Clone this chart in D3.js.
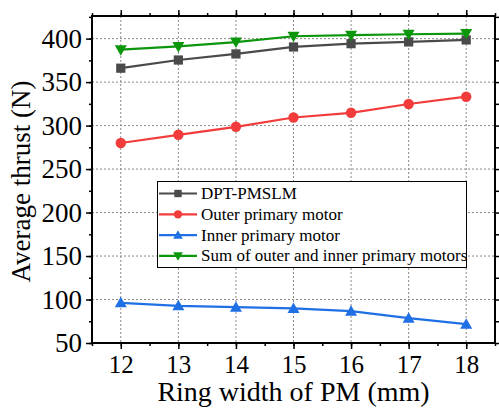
<!DOCTYPE html>
<html>
<head>
<meta charset="utf-8">
<script src="https://cdn.jsdelivr.net/npm/d3@7/dist/d3.min.js"></script>
<style>
body { margin: 0; background: #fff; }
</style>
</head>
<body>
<script>
var widths = [12, 13, 14, 15, 16, 17, 18];
var dptValues = [366, 375.4, 382.4, 390.4, 394.2, 396.2, 398.5];
var outerValues = [280, 289.4, 298.6, 309.3, 314.7, 324.8, 333.2];
var innerValues = [96.2, 92.7, 91.2, 89.7, 86.6, 78.5, 71.6];
var sumValues = [387.3, 391, 396, 402.7, 404, 405, 405.8];
var seriesNames = ["DPT-PMSLM", "Outer primary motor", "Inner primary motor", "Sum of outer and inner primary motors"];
var yTicks = [50, 100, 150, 200, 250, 300, 350, 400];

var w = 499, h = 409;
var m = {left: 92, top: 16, right: 495, bottom: 343};
var serif = "'Liberation Serif', 'Times New Roman', serif";

var series = [
	{name: seriesNames[0], values: dptValues, color: "#4a4a4a", marker: d3.symbolSquare},
	{name: seriesNames[1], values: outerValues, color: "#f23c3c", marker: d3.symbolCircle},
	{name: seriesNames[2], values: innerValues, color: "#1f6fe5", marker: "up"},
	{name: seriesNames[3], values: sumValues, color: "#0b960b", marker: "down"}
];

var svg = d3.select("body").append("svg").attr("width", w).attr("height", h)
	.attr("font-family", serif);

var x = d3.scaleLinear().domain([11.5, 18.5]).range([m.left, m.right]);
var y = d3.scaleLinear().domain([50, 426]).range([m.bottom, m.top]);

// grid
var grid = svg.append("g").attr("stroke", "#888").attr("stroke-width", 1).attr("stroke-dasharray", "2,2");
grid.selectAll(".gx").data(widths).enter().append("line")
	.attr("x1", function(d) { return x(d); }).attr("x2", function(d) { return x(d); })
	.attr("y1", m.top).attr("y2", m.bottom);
grid.selectAll(".gy").data(yTicks.slice(1)).enter().append("line")
	.attr("y1", function(d) { return y(d); }).attr("y2", function(d) { return y(d); })
	.attr("x1", m.left).attr("x2", m.right);

// axes
var xMinor = d3.range(11.5, 18.6, 0.5);
var yMinor = d3.range(50, 426, 25);

function axisStyle(g) {
	g.attr("font-family", serif);
	g.select(".domain").remove();
	g.selectAll("line").attr("stroke", "#000").attr("stroke-width", 1.5);
	g.selectAll("text").attr("font-family", serif).attr("fill", "#000");
}

svg.append("g").attr("transform", "translate(0," + m.bottom + ")")
	.call(d3.axisBottom(x).tickValues(xMinor).tickSize(3).tickFormat(""))
	.call(axisStyle);
svg.append("g").attr("transform", "translate(0," + m.bottom + ")")
	.call(d3.axisBottom(x).tickValues(widths).tickSize(6).tickPadding(6).tickFormat(d3.format("d")))
	.call(axisStyle)
	.selectAll("text").attr("font-size", "25px");
svg.append("g").attr("transform", "translate(0," + m.top + ")")
	.call(d3.axisTop(x).tickValues(xMinor).tickSize(3).tickFormat(""))
	.call(axisStyle);
svg.append("g").attr("transform", "translate(0," + m.top + ")")
	.call(d3.axisTop(x).tickValues(widths).tickSize(6).tickFormat(""))
	.call(axisStyle);
svg.append("g").attr("transform", "translate(" + m.left + ",0)")
	.call(d3.axisLeft(y).tickValues(yMinor).tickSize(3).tickFormat(""))
	.call(axisStyle);
svg.append("g").attr("transform", "translate(" + m.left + ",0)")
	.call(d3.axisLeft(y).tickValues(yTicks).tickSize(6).tickPadding(4).tickFormat(d3.format("d")))
	.call(axisStyle)
	.selectAll("text").attr("font-size", "27px");
svg.append("g").attr("transform", "translate(" + m.right + ",0)")
	.call(d3.axisRight(y).tickValues(yMinor).tickSize(5).tickFormat(""))
	.call(axisStyle);

svg.append("rect").attr("x", m.left).attr("y", m.top)
	.attr("width", m.right - m.left).attr("height", m.bottom - m.top)
	.attr("fill", "none").attr("stroke", "#000").attr("stroke-width", 2);

// markers
function drawMarker(g, type, color, s) {
	if (type === "up") {
		g.append("path").attr("d", "M0," + (-s * 0.6) + "L" + (s * 0.6) + "," + (s * 0.45) + "L" + (-s * 0.6) + "," + (s * 0.45) + "Z").attr("fill", color);
	} else if (type === "down") {
		g.append("path").attr("d", "M0," + (s * 0.6) + "L" + (s * 0.6) + "," + (-s * 0.45) + "L" + (-s * 0.6) + "," + (-s * 0.45) + "Z").attr("fill", color);
	} else {
		g.append("path").attr("d", d3.symbol().type(type).size(s * s * 0.85)()).attr("fill", color);
	}
}

var line = d3.line().x(function(d, i) { return x(widths[i]); }).y(function(d) { return y(d); });

series.forEach(function(s) {
	svg.append("path").datum(s.values).attr("d", line)
		.attr("fill", "none").attr("stroke", s.color).attr("stroke-width", 2.2);
	s.values.forEach(function(v, i) {
		var g = svg.append("g").attr("transform", "translate(" + x(widths[i]) + "," + y(v) + ")");
		drawMarker(g, s.marker, s.color, 10);
	});
});

// legend
var lg = svg.append("g");
lg.append("rect").attr("x", 157.5).attr("y", 181.5).attr("width", 309).attr("height", 86)
	.attr("fill", "#fff").attr("stroke", "#000").attr("stroke-width", 1);
series.forEach(function(s, i) {
	var yy = 193.5 + i * 20.8;
	lg.append("line").attr("x1", 159).attr("x2", 197).attr("y1", yy).attr("y2", yy)
		.attr("stroke", s.color).attr("stroke-width", 2.2);
	var g = lg.append("g").attr("transform", "translate(178," + yy + ")");
	drawMarker(g, s.marker, s.color, 8);
	lg.append("text").attr("x", 201).attr("y", yy + 5.5).attr("font-size", "17px").text(s.name);
});

// titles
svg.append("text").attr("x", (m.left + m.right) / 2).attr("y", 401)
	.attr("text-anchor", "middle").attr("font-size", "28px").text("Ring width of PM (mm)");
svg.append("text").attr("transform", "translate(30," + ((m.top + m.bottom) / 2 + 2) + ") rotate(-90)")
	.attr("text-anchor", "middle").attr("font-size", "27px").text("Average thrust (N)");
</script>
</body>
</html>
